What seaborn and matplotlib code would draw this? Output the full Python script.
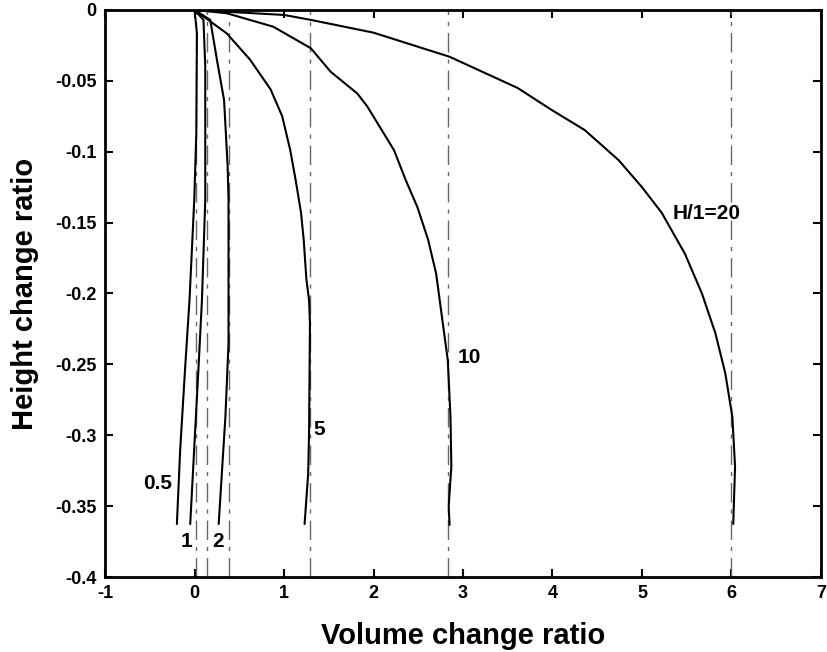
import matplotlib
matplotlib.use("Agg")
import matplotlib.pyplot as plt
import seaborn as sns
import pandas as pd

sns.set_theme(style="white")
plt.rcParams['font.family'] = ['Liberation Sans', 'DejaVu Sans']
plt.rcParams['text.color'] = 'black'
plt.rcParams['axes.labelcolor'] = 'black'

# ---- data ----
curve_labels = ["0.5", "1", "2", "5", "10", "H/1=20"]

x_05 = [0.0, 0.027, 0.02, -0.003, -0.056, -0.104, -0.16, -0.197]
y_05 = [0.0, -0.0165, -0.087, -0.134, -0.2046, -0.2516, -0.31, -0.3626]

x_1 = [0.0, 0.10, 0.12, 0.12, 0.083, 0.045, -0.048]
y_1 = [0.0, -0.007, -0.04, -0.134, -0.2046, -0.2516, -0.3626]

x_2 = [0.0, 0.176, 0.25, 0.33, 0.37, 0.38, 0.38, 0.38, 0.345, 0.27]
y_2 = [0.0, -0.007, -0.035, -0.0635, -0.11, -0.134, -0.2046, -0.235, -0.287, -0.3626]

x_5 = [0.0, 0.36, 0.62, 0.85, 0.98, 1.07, 1.13, 1.19, 1.22, 1.25, 1.28, 1.29, 1.28, 1.27, 1.23]
y_5 = [0.0, -0.0165, -0.035, -0.056, -0.075, -0.099, -0.12, -0.143, -0.162, -0.19, -0.2046, -0.221, -0.298, -0.327, -0.3626]

x_10 = [0.0, 0.36, 0.88, 1.30, 1.52, 1.82, 1.93, 2.23, 2.36, 2.49, 2.61, 2.70, 2.77, 2.83, 2.86, 2.87, 2.84, 2.85]
y_10 = [0.0, -0.0023, -0.0118, -0.027, -0.0435, -0.059, -0.068, -0.099, -0.12, -0.139, -0.162, -0.186, -0.219, -0.247, -0.287, -0.322, -0.350, -0.3633]

x_20 = [0.0, 1.0, 1.30, 2.0, 2.85, 3.61, 3.99, 4.36, 4.74, 5.0, 5.22, 5.48, 5.67, 5.82, 5.93, 6.01, 6.04, 6.02]
y_20 = [0.0, -0.0035, -0.007, -0.016, -0.033, -0.055, -0.0705, -0.0847, -0.106, -0.125, -0.143, -0.172, -0.200, -0.228, -0.256, -0.287, -0.322, -0.3626]

asymptotes = [0.02, 0.135, 0.39, 1.29, 2.83, 6.0]

label_x = [-0.41, -0.09, 0.26, 1.39, 3.07, 5.72]
label_y = [-0.334, -0.375, -0.375, -0.296, -0.2455, -0.1435]

x_ticks = [-1, 0, 1, 2, 3, 4, 5, 6, 7]
y_ticks = [0, -0.05, -0.1, -0.15, -0.2, -0.25, -0.3, -0.35, -0.4]
y_ticklabels = ["0", "-0.05", "-0.1", "-0.15", "-0.2", "-0.25", "-0.3", "-0.35", "-0.4"]

# ---- build table ----
series = [(x_05, y_05), (x_1, y_1), (x_2, y_2), (x_5, y_5), (x_10, y_10), (x_20, y_20)]
rows = []
for lab, (xs, ys) in zip(curve_labels, series):
    for i, (xv, yv) in enumerate(zip(xs, ys)):
        rows.append({"curve": lab, "order": i, "x": xv, "y": yv})
df = pd.DataFrame(rows)

fig = plt.figure(figsize=(8.27, 6.52), dpi=100)
ax = fig.add_axes([0.127, 0.115, 0.8657, 0.8697])

for xv in asymptotes:
    ax.axvline(xv, color="#666666", lw=1.0, linestyle=(0, (14, 5, 3, 5)), zorder=1)

sns.lineplot(data=df, x="x", y="y", hue="curve", palette=["black"] * len(curve_labels),
             sort=False, estimator=None, legend=False, lw=1.5, ax=ax, zorder=3)

for lab, lx, ly in zip(curve_labels, label_x, label_y):
    ax.text(lx, ly, lab, ha="center", va="center", fontsize=15, fontweight="bold",
            color="black")

ax.set_xlim(-1, 7)
ax.set_ylim(-0.4, 0)
ax.set_xticks(x_ticks)
ax.set_xticklabels([str(t) for t in x_ticks])
ax.set_yticks(y_ticks)
ax.set_yticklabels(y_ticklabels)
ax.tick_params(direction="in", length=6, width=1.5, top=True, right=True,
               bottom=True, left=True, labelsize=13, pad=6, colors="black")
for t in ax.get_xticklabels() + ax.get_yticklabels():
    t.set_fontweight("bold")
for s in ax.spines.values():
    s.set_linewidth(2)
    s.set_color("black")
ax.set_xlabel("Volume change ratio", fontsize=21, fontweight="bold", labelpad=14, color="black")
ax.set_ylabel("Height change ratio", fontsize=21, fontweight="bold", labelpad=12, color="black")

fig.savefig("out.png", dpi=100)
